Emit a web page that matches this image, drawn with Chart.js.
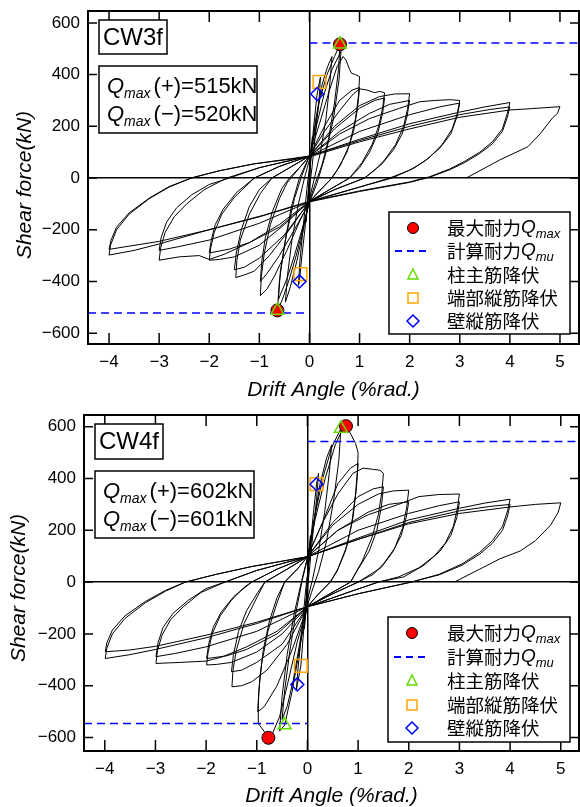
<!DOCTYPE html>
<html>
<head>
<meta charset="utf-8">
<script src="https://cdn.jsdelivr.net/npm/chart.js"></script>
<style>
  body { margin: 0; background: #fff; }
  canvas { display: block; }
</style>
</head>
<body>
<canvas id="cw3" width="580" height="400"></canvas>
<canvas id="cw4" width="580" height="407"></canvas>
<script>
// 軸目盛
const xTicks = [-4, -3, -2, -1, 0, 1, 2, 3, 4, 5];
const yTicks = [-600, -400, -200, 0, 200, 400, 600];

// ===== CW3f 履歴ループ [変形角(%rad.), せん断力(kN)] =====
const cw3Cycle01 = [[0,0],[0.03,90],[0.06,160],[0.04,105],[0,20],[-0.03,-80],[-0.07,-170],[-0.05,-110],[-0.01,-25],[0.02,50]];
const cw3Cycle025 = [[0.08,190],[0.15,320],[0.2,372],[0.22,390],[0.19,300],[0.12,170],[0.05,40],[0,-40],[-0.08,-180],[-0.15,-300],[-0.2,-400],[-0.22,-415],[-0.19,-320],[-0.12,-180],[-0.05,-40],[0,40]];
const cw3Cycle05 = [[0.04,100],[0.12,220],[0.25,360],[0.36,430],[0.45,470],[0.41,370],[0.33,230],[0.22,100],[0.1,0],[0,-80],[-0.1,-180],[-0.25,-320],[-0.38,-420],[-0.48,-480],[-0.44,-380],[-0.35,-240],[-0.22,-100],[-0.1,0],[0,70]];
const cw3Cycle067a = [[0.08,160],[0.2,300],[0.35,400],[0.5,470],[0.61,517],[0.58,420],[0.5,290],[0.38,150],[0.25,50],[0.1,-30],[0,-90],[-0.1,-170],[-0.25,-290],[-0.4,-390],[-0.54,-470],[-0.64,-512],[-0.6,-400],[-0.5,-260],[-0.36,-110],[-0.2,0],[0,85]];
const cw3Cycle067b = [[0.15,210],[0.3,330],[0.45,420],[0.63,490],[0.59,380],[0.48,230],[0.32,90],[0.15,-20],[0,-95],[-0.15,-200],[-0.3,-300],[-0.45,-390],[-0.62,-470],[-0.58,-360],[-0.46,-220],[-0.3,-80],[-0.15,10],[0,85]];
const cw3Cycle10a = [[0.2,210],[0.4,340],[0.55,430],[0.67,470],[0.73,456],[0.8,420],[0.84,405],[0.92,400],[1.0,392],[0.98,320],[0.92,230],[0.8,130],[0.62,50],[0.45,0],[0.2,-50],[0,-90],[-0.2,-170],[-0.45,-280],[-0.7,-380],[-0.85,-430],[-0.98,-455],[-0.96,-380],[-0.9,-290],[-0.78,-180],[-0.6,-80],[-0.45,-20],[-0.2,40],[0,85]];
const cw3Cycle10b = [[0.3,200],[0.6,300],[0.85,340],[1.0,350],[0.96,270],[0.88,180],[0.75,100],[0.55,30],[0.4,-10],[0.15,-60],[0,-95],[-0.3,-200],[-0.6,-300],[-0.85,-370],[-0.98,-400],[-0.95,-320],[-0.88,-230],[-0.74,-130],[-0.55,-40],[-0.4,0],[-0.15,50],[0,85]];
const cw3Cycle15a = [[0.3,180],[0.6,260],[0.85,320],[1.0,345],[1.15,340],[1.3,330],[1.4,335],[1.5,330],[1.46,270],[1.38,200],[1.25,130],[1.05,60],[0.8,0],[0.4,-45],[0,-90],[-0.4,-200],[-0.8,-300],[-1.1,-360],[-1.3,-375],[-1.47,-385],[-1.45,-320],[-1.38,-240],[-1.2,-140],[-0.98,-60],[-0.75,0],[-0.35,45],[0,85]];
const cw3Cycle15b = [[0.5,190],[1.0,270],[1.3,300],[1.5,310],[1.46,250],[1.36,170],[1.2,100],[1.0,40],[0.8,0],[0.4,-45],[0,-92],[-0.5,-220],[-1.0,-310],[-1.3,-345],[-1.5,-355],[-1.46,-290],[-1.36,-200],[-1.2,-110],[-1.0,-45],[-0.75,0],[-0.35,45],[0,85]];
const cw3Cycle20a = [[0.5,200],[1.0,280],[1.4,315],[1.7,325],[2.0,326],[1.96,270],[1.88,200],[1.72,130],[1.5,70],[1.3,30],[1.1,0],[0.5,-45],[0,-90],[-0.5,-180],[-1.0,-260],[-1.5,-305],[-1.8,-315],[-2.0,-318],[-1.97,-270],[-1.9,-210],[-1.75,-140],[-1.5,-75],[-1.1,0],[-0.6,45],[0,85]];
const cw3Cycle20b = [[0.6,180],[1.2,250],[1.6,285],[2.0,300],[1.95,240],[1.85,170],[1.68,110],[1.45,55],[1.1,0],[0.5,-45],[0,-92],[-0.6,-190],[-1.2,-250],[-1.6,-275],[-2.0,-290],[-1.96,-240],[-1.88,-180],[-1.72,-120],[-1.45,-55],[-1.1,0],[-0.6,45],[0,85]];
const cw3Cycle30a = [[0.6,170],[1.2,230],[1.8,270],[2.2,295],[2.5,300],[2.8,303],[3.0,300],[2.95,250],[2.85,190],[2.65,130],[2.4,80],[2.1,40],[1.65,0],[1.0,-35],[0,-90],[-0.6,-180],[-1.2,-250],[-1.7,-295],[-2.0,-315],[-2.2,-300],[-2.6,-305],[-3.0,-318],[-2.97,-270],[-2.88,-210],[-2.7,-150],[-2.45,-100],[-2.1,-45],[-1.65,0],[-1.0,40],[0,85]];
const cw3Cycle30b = [[1.0,180],[2.0,245],[2.6,275],[3.0,290],[2.95,240],[2.82,170],[2.6,115],[2.3,65],[2.0,30],[1.6,0],[1.0,-35],[0,-92],[-1.0,-175],[-2.0,-240],[-2.6,-265],[-3.0,-280],[-2.96,-230],[-2.85,-170],[-2.65,-115],[-2.35,-65],[-2.0,-25],[-1.6,0],[-1.0,40],[0,85]];
const cw3Cycle40a = [[1.0,150],[2.0,210],[3.0,255],[3.5,275],[4.0,292],[3.95,250],[3.85,190],[3.65,140],[3.4,100],[3.1,65],[2.8,35],[2.4,5],[2.0,-15],[1.0,-50],[0,-90],[-0.9,-143],[-2.0,-200],[-3.0,-255],[-3.5,-280],[-4.0,-298],[-3.97,-260],[-3.85,-200],[-3.6,-140],[-3.2,-80],[-2.8,-35],[-2.36,0],[-1.8,28],[-1.1,55],[0,85]];
const cw3Cycle40b = [[1.0,145],[2.0,200],[3.0,245],[3.6,265],[4.0,275],[3.95,235],[3.85,180],[3.65,132],[3.4,95],[3.1,60],[2.8,32],[2.4,3],[2.0,-17],[1.0,-52],[0,-92],[-1.0,-150],[-2.0,-200],[-3.0,-245],[-4.0,-276],[-3.96,-240],[-3.85,-190],[-3.6,-135],[-3.2,-78],[-2.8,-33],[-2.36,0],[-1.8,28],[-1.1,55],[0,82]];
const cw3Cycle50 = [[1.0,140],[2.0,190],[3.0,235],[4.0,263],[4.4,268],[4.7,272],[5.0,276],[4.95,250],[4.85,232],[4.6,170],[4.36,121],[3.8,70],[3.13,0]];

// CW3f 各種イベント点
const cw3Qmax = [[0.61,517],[-0.64,-512]];
const cw3ColYield = [[0.61,517],[-0.64,-512]];
const cw3EndYield = [[0.2,372],[-0.18,-372]];
const cw3WallYield = [[0.155,325],[-0.2,-400]];
const cw3Qmu = [522, -522];

// ===== CW4f 履歴ループ =====
const cw4Cycle01 = [[0,0],[0.03,100],[0.06,180],[0.04,120],[0,20],[-0.03,-90],[-0.06,-180],[-0.04,-110],[0,-10],[0.02,60]];
const cw4Cycle025 = [[0.06,150],[0.12,270],[0.18,378],[0.22,420],[0.18,320],[0.1,170],[0.03,30],[-0.02,-60],[-0.08,-200],[-0.13,-323],[-0.2,-395],[-0.22,-420],[-0.18,-320],[-0.1,-170],[-0.03,-20],[0.02,60]];
const cw4Cycle05 = [[0.1,200],[0.25,380],[0.38,480],[0.48,530],[0.43,420],[0.34,270],[0.22,120],[0.1,10],[0,-70],[-0.12,-200],[-0.28,-380],[-0.4,-480],[-0.5,-530],[-0.45,-420],[-0.35,-270],[-0.22,-110],[-0.1,10],[0,90]];
const cw4Cycle067 = [[0.12,230],[0.3,400],[0.48,520],[0.66,593],[0.62,470],[0.52,320],[0.38,160],[0.22,40],[0.08,-40],[0,-90],[-0.12,-220],[-0.3,-420],[-0.45,-552],[-0.55,-575],[-0.5,-440],[-0.4,-280],[-0.26,-120],[-0.12,0],[0,95]];
const cw4Cycle10a = [[0.15,240],[0.35,400],[0.55,530],[0.68,585],[0.76,602],[0.86,570],[0.95,535],[1.0,500],[0.99,440],[0.95,340],[0.87,220],[0.75,120],[0.58,40],[0.45,0],[0.2,-50],[0,-95],[-0.2,-230],[-0.4,-400],[-0.55,-520],[-0.68,-580],[-0.77,-601],[-0.86,-575],[-0.97,-546],[-0.97,-470],[-0.94,-370],[-0.87,-260],[-0.75,-150],[-0.6,-60],[-0.45,0],[-0.2,50],[0,98]];
const cw4Cycle10b = [[0.3,230],[0.6,380],[0.85,440],[1.0,458],[0.97,370],[0.9,250],[0.78,140],[0.6,50],[0.45,0],[0.2,-50],[0,-95],[-0.3,-260],[-0.6,-400],[-0.85,-480],[-0.98,-501],[-0.96,-420],[-0.9,-310],[-0.78,-190],[-0.6,-80],[-0.45,0],[-0.2,50],[0,98]];
const cw4Cycle15a = [[0.3,230],[0.6,340],[0.9,420],[1.1,440],[1.3,435],[1.43,432],[1.5,420],[1.47,350],[1.4,260],[1.27,170],[1.08,80],[0.85,0],[0.4,-50],[0,-95],[-0.4,-240],[-0.8,-340],[-1.1,-385],[-1.3,-400],[-1.49,-404],[-1.47,-340],[-1.4,-260],[-1.25,-160],[-1.0,-60],[-0.84,0],[-0.4,50],[0,98]];
const cw4Cycle15b = [[0.5,230],[1.0,330],[1.3,360],[1.5,368],[1.46,290],[1.37,200],[1.22,120],[1.0,50],[0.85,0],[0.4,-50],[0,-95],[-0.5,-240],[-1.0,-310],[-1.3,-340],[-1.5,-346],[-1.46,-280],[-1.36,-190],[-1.2,-110],[-0.98,-40],[-0.84,0],[-0.4,50],[0,98]];
const cw4Cycle20a = [[0.5,220],[1.0,300],[1.4,340],[1.7,352],[2.0,355],[1.96,290],[1.88,210],[1.72,130],[1.5,70],[1.3,30],[1.0,0],[0.5,-45],[0,-95],[-0.5,-200],[-1.0,-270],[-1.5,-310],[-1.8,-318],[-1.99,-320],[-1.96,-270],[-1.88,-200],[-1.72,-130],[-1.5,-70],[-1.25,-20],[-1.1,0],[-0.6,50],[0,98]];
const cw4Cycle20b = [[0.6,200],[1.2,270],[1.6,300],[2.0,310],[1.95,250],[1.85,180],[1.68,115],[1.45,55],[1.0,0],[0.5,-45],[0,-95],[-0.6,-200],[-1.2,-260],[-1.6,-285],[-1.99,-295],[-1.95,-240],[-1.86,-175],[-1.7,-115],[-1.45,-55],[-1.1,0],[-0.6,50],[0,98]];
const cw4Cycle30a = [[0.6,200],[1.2,260],[1.8,300],[2.2,330],[2.6,338],[3.0,340],[2.96,285],[2.88,215],[2.72,150],[2.5,100],[2.2,55],[1.8,20],[1.4,0],[0.8,-40],[0,-95],[-0.6,-190],[-1.2,-250],[-1.7,-290],[-2.0,-305],[-2.5,-310],[-2.99,-314],[-2.96,-265],[-2.87,-205],[-2.7,-145],[-2.45,-95],[-2.1,-40],[-1.63,0],[-1.0,45],[0,98]];
const cw4Cycle30b = [[1.0,200],[2.0,265],[2.6,295],[3.0,310],[2.95,250],[2.83,180],[2.62,120],[2.3,65],[1.9,20],[1.4,0],[0.8,-40],[0,-95],[-1.0,-190],[-2.0,-250],[-2.6,-275],[-2.99,-288],[-2.95,-235],[-2.85,-175],[-2.65,-120],[-2.35,-70],[-2.0,-25],[-1.63,0],[-1.0,45],[0,98]];
const cw4Cycle40a = [[1.0,170],[2.0,240],[3.0,285],[3.5,305],[4.0,320],[3.95,275],[3.85,215],[3.65,160],[3.4,115],[3.05,70],[2.6,30],[2.05,0],[1.0,-45],[0,-95],[-1.0,-160],[-2.0,-215],[-3.0,-260],[-3.5,-280],[-3.99,-295],[-3.96,-255],[-3.85,-200],[-3.6,-140],[-3.2,-80],[-2.8,-35],[-2.41,0],[-1.8,30],[-1.1,60],[0,98]];
const cw4Cycle40b = [[1.0,165],[2.0,230],[3.0,275],[3.6,292],[4.0,300],[3.95,255],[3.85,200],[3.65,150],[3.4,108],[3.05,65],[2.6,28],[2.05,0],[1.0,-45],[0,-95],[-1.0,-155],[-2.0,-205],[-3.0,-248],[-3.5,-262],[-3.99,-269],[-3.96,-235],[-3.85,-185],[-3.6,-130],[-3.2,-75],[-2.8,-32],[-2.41,0],[-1.8,30],[-1.1,60],[0,98]];
const cw4Cycle50 = [[1.0,165],[2.0,225],[3.0,265],[4.0,290],[4.5,300],[5.0,306],[4.95,270],[4.8,220],[4.5,160],[4.2,120],[3.8,90],[3.4,50],[2.9,0]];

// CW4f 各種イベント点
const cw4Qmax = [[0.76,602],[-0.77,-601]];
const cw4ColYield = [[0.66,593],[-0.45,-552]];
const cw4EndYield = [[0.18,378],[-0.13,-323]];
const cw4WallYield = [[0.18,378],[-0.2,-395]];
const cw4Qmu = [543, -546];

const cw3History = [].concat(cw3Cycle01, cw3Cycle025, cw3Cycle05, cw3Cycle067a, cw3Cycle067b, cw3Cycle10a, cw3Cycle10b,
  cw3Cycle15a, cw3Cycle15b, cw3Cycle20a, cw3Cycle20b, cw3Cycle30a, cw3Cycle30b, cw3Cycle40a, cw3Cycle40b, cw3Cycle50);
const cw4History = [].concat(cw4Cycle01, cw4Cycle025, cw4Cycle05, cw4Cycle067, cw4Cycle10a, cw4Cycle10b,
  cw4Cycle15a, cw4Cycle15b, cw4Cycle20a, cw4Cycle20b, cw4Cycle30a, cw4Cycle30b, cw4Cycle40a, cw4Cycle40b, cw4Cycle50);

const LATIN = '"Liberation Sans", Arial, sans-serif';
const CJK = '"Noto Sans CJK JP", sans-serif';

// 左から順に文字列を描く (下付き文字用)
function drawRuns(ctx, x, y, parts) {
  parts.forEach(p => {
    ctx.font = p.font;
    ctx.fillText(p.t, x, y + (p.dy || 0));
    x += ctx.measureText(p.t).width + (p.gap || 0);
  });
}

// 枠・内向き目盛・軸ラベル・注記・凡例
function decorPlugin(p) {
  return {
    id: 'decor',
    afterDraw(chart) {
      const { ctx, chartArea: a, scales: { x, y } } = chart;
      ctx.save();
      ctx.strokeStyle = '#000';
      ctx.lineWidth = 2;
      ctx.strokeRect(a.left, a.top, a.right - a.left, a.bottom - a.top);
      ctx.lineWidth = 1.5;
      ctx.beginPath();
      xTicks.forEach(v => {
        const px = x.getPixelForValue(v);
        ctx.moveTo(px, a.top); ctx.lineTo(px, a.top + 11);
        ctx.moveTo(px, a.bottom); ctx.lineTo(px, a.bottom - 11);
      });
      yTicks.forEach(v => {
        const py = y.getPixelForValue(v);
        ctx.moveTo(a.left, py); ctx.lineTo(a.left + 9, py);
        ctx.moveTo(a.right, py); ctx.lineTo(a.right - 9, py);
      });
      ctx.stroke();

      // 軸タイトル
      ctx.fillStyle = '#000';
      ctx.font = 'italic 21px ' + LATIN;
      ctx.textAlign = 'center';
      ctx.textBaseline = 'middle';
      ctx.fillText('Drift Angle (%rad.)', (a.left + a.right) / 2, p.xTitleY);
      ctx.save();
      ctx.translate(p.yTitleX, p.yTitleY);
      ctx.rotate(-Math.PI / 2);
      ctx.fillText('Shear force(kN)', 0, 0);
      ctx.restore();

      // 試験体名
      const nb = p.nameBox;
      ctx.fillStyle = '#fff';
      ctx.fillRect(nb[0], nb[1], nb[2], nb[3]);
      ctx.strokeRect(nb[0], nb[1], nb[2], nb[3]);
      ctx.fillStyle = '#000';
      ctx.font = '24px ' + LATIN;
      ctx.fillText(p.name, nb[0] + nb[2] / 2, nb[1] + nb[3] / 2 + 1);

      // 最大耐力
      const qb = p.qBox;
      ctx.fillStyle = '#fff';
      ctx.fillRect(qb[0], qb[1], qb[2], qb[3]);
      ctx.strokeRect(qb[0], qb[1], qb[2], qb[3]);
      ctx.fillStyle = '#000';
      ctx.textAlign = 'left';
      ctx.textBaseline = 'alphabetic';
      p.qLines.forEach((txt, i) => {
        drawRuns(ctx, qb[0] + 8, qb[1] + 27 + i * 28, [
          { t: 'Q', font: 'italic 22px ' + LATIN },
          { t: 'max', font: 'italic 14px ' + LATIN, dy: 5, gap: 3 },
          { t: txt, font: '22px ' + LATIN }
        ]);
      });

      // 凡例
      const lg = p.legend;
      ctx.fillStyle = '#fff';
      ctx.fillRect(lg.x, lg.y, lg.w, lg.h);
      ctx.lineWidth = 1.5;
      ctx.strokeStyle = '#000';
      ctx.strokeRect(lg.x, lg.y, lg.w, lg.h);
      const sx = lg.symX;
      const rows = lg.rows;
      // 赤丸
      ctx.beginPath();
      ctx.arc(sx, rows[0], 5.5, 0, Math.PI * 2);
      ctx.fillStyle = '#ff0000';
      ctx.fill();
      ctx.lineWidth = 1;
      ctx.strokeStyle = '#000';
      ctx.stroke();
      // 破線
      ctx.beginPath();
      ctx.setLineDash([7, 5]);
      ctx.lineWidth = 2;
      ctx.strokeStyle = '#0000ff';
      ctx.moveTo(sx - 18, rows[1]); ctx.lineTo(sx + 16, rows[1]);
      ctx.stroke();
      ctx.setLineDash([]);
      // 三角
      ctx.lineWidth = 1.5;
      ctx.strokeStyle = '#66dd00';
      ctx.beginPath();
      ctx.moveTo(sx, rows[2] - 6); ctx.lineTo(sx + 5, rows[2] + 4); ctx.lineTo(sx - 5, rows[2] + 4);
      ctx.closePath();
      ctx.stroke();
      // 四角
      ctx.strokeStyle = '#ffa500';
      ctx.strokeRect(sx - 5, rows[3] - 5, 10, 10);
      // 菱形
      ctx.strokeStyle = '#0000ff';
      ctx.beginPath();
      ctx.moveTo(sx, rows[4] - 6); ctx.lineTo(sx + 6, rows[4]); ctx.lineTo(sx, rows[4] + 6); ctx.lineTo(sx - 6, rows[4]);
      ctx.closePath();
      ctx.stroke();

      ctx.fillStyle = '#000';
      ctx.textBaseline = 'middle';
      const tx = lg.textX;
      drawRuns(ctx, tx, rows[0], [
        { t: '最大耐力', font: '18.5px ' + CJK },
        { t: 'Q', font: 'italic 19px ' + LATIN },
        { t: 'max', font: 'italic 13px ' + LATIN, dy: 6 }
      ]);
      drawRuns(ctx, tx, rows[1], [
        { t: '計算耐力', font: '18.5px ' + CJK },
        { t: 'Q', font: 'italic 19px ' + LATIN },
        { t: 'mu', font: 'italic 13px ' + LATIN, dy: 6 }
      ]);
      ctx.font = '18.5px ' + CJK;
      ctx.fillText('柱主筋降伏', tx, rows[2]);
      ctx.fillText('端部縦筋降伏', tx, rows[3]);
      ctx.fillText('壁縦筋降伏', tx, rows[4]);
      ctx.restore();
    }
  };
}

function makePanel(id, p) {
  const toXY = arr => arr.map(v => ({ x: v[0], y: v[1] }));
  const none = 'rgba(0,0,0,0)';
  const tickLabel = v => String(v).replace('-', '\u2212');
  new Chart(document.getElementById(id), {
    type: 'scatter',
    data: {
      datasets: [
        { data: toXY(p.wallYield), pointStyle: 'rectRot', pointRadius: 6.5, borderColor: '#0000ff', backgroundColor: none, borderWidth: 1.5 },
        { data: toXY(p.endYield), pointStyle: 'rect', pointRadius: 9, borderColor: '#ffa500', backgroundColor: none, borderWidth: 1.5 },
        { data: toXY(p.colYield), pointStyle: 'triangle', pointRadius: 7.5, borderColor: '#66dd00', backgroundColor: none, borderWidth: 1.5 },
        { data: toXY(p.qmax), pointStyle: 'circle', pointRadius: 6.5, borderColor: '#000', backgroundColor: '#ff0000', borderWidth: 1 },
        { data: [{ x: 0, y: p.qmu[0] }, { x: p.xMax, y: p.qmu[0] }], showLine: true, pointRadius: 0, borderColor: '#0000ff', borderWidth: 1.5, borderDash: [8, 5] },
        { data: [{ x: p.xMin, y: p.qmu[1] }, { x: 0, y: p.qmu[1] }], showLine: true, pointRadius: 0, borderColor: '#0000ff', borderWidth: 1.5, borderDash: [8, 5] },
        { data: toXY(p.history), showLine: true, pointRadius: 0, borderColor: '#000', borderWidth: 1, tension: 0 }
      ]
    },
    options: {
      responsive: false,
      animation: false,
      events: [],
      layout: { autoPadding: false, padding: { top: p.padTop, right: 1, left: 0, bottom: 0 } },
      plugins: { legend: { display: false }, tooltip: { enabled: false } },
      scales: {
        x: {
          type: 'linear', min: p.xMin, max: p.xMax,
          afterBuildTicks: s => { s.ticks = xTicks.map(v => ({ value: v })); },
          afterFit: s => { s.height = p.xAxisH; s.paddingLeft = 0; s.paddingRight = 0; },
          ticks: { padding: 8, color: '#000', font: { family: LATIN, size: 17 }, callback: tickLabel },
          grid: { drawTicks: false, lineWidth: 1.5, color: c => c.tick && c.tick.value === 0 ? '#000' : none },
          border: { display: false }
        },
        y: {
          type: 'linear', min: p.yMin, max: p.yMax,
          afterBuildTicks: s => { s.ticks = yTicks.map(v => ({ value: v })); },
          afterFit: s => { s.width = p.yAxisW; s.paddingTop = 0; s.paddingBottom = 0; },
          ticks: { padding: 8, color: '#000', font: { family: LATIN, size: 17 }, callback: tickLabel },
          grid: { drawTicks: false, lineWidth: 1.5, color: c => c.tick && c.tick.value === 0 ? '#000' : none },
          border: { display: false }
        }
      }
    },
    plugins: [decorPlugin(p)]
  });
}

makePanel('cw3', {
  history: cw3History, qmax: cw3Qmax, colYield: cw3ColYield, endYield: cw3EndYield, wallYield: cw3WallYield, qmu: cw3Qmu,
  xMin: -4.42, xMax: 5.38, yMin: -642, yMax: 646,
  padTop: 11, xAxisH: 56, yAxisW: 88,
  xTitleY: 390, yTitleX: 25, yTitleY: 185,
  name: 'CW3f', nameBox: [99, 20, 68, 34],
  qBox: [99, 66, 158, 67], qLines: ['(+)=515kN', '(\u2212)=520kN'],
  legend: { x: 389, y: 212, w: 181, h: 122, symX: 413, textX: 447, rows: [228, 251, 275, 298, 321] }
});

makePanel('cw4', {
  history: cw4History, qmax: cw4Qmax, colYield: cw4ColYield, endYield: cw4EndYield, wallYield: cw4WallYield, qmu: cw4Qmu,
  xMin: -4.41, xMax: 5.36, yMin: -652, yMax: 645,
  padTop: 15, xAxisH: 56, yAxisW: 84,
  xTitleY: 396, yTitleX: 19, yTitleY: 188,
  name: 'CW4f', nameBox: [95, 24, 68, 35],
  qBox: [95, 71, 159, 67], qLines: ['(+)=602kN', '(\u2212)=601kN'],
  legend: { x: 388, y: 217, w: 182, h: 125, symX: 412, textX: 447, rows: [233, 257, 281, 305, 328] }
});
</script>
</body>
</html>
